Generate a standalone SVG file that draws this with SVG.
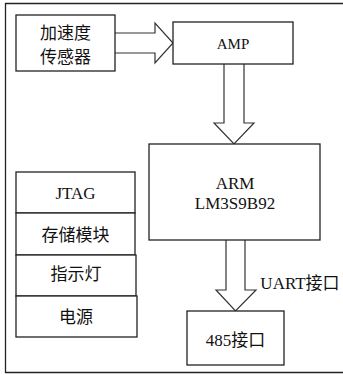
<svg xmlns="http://www.w3.org/2000/svg" width="343" height="375" viewBox="0 0 343 375">
<style>
.b{fill:#fff;stroke:#222;stroke-width:1.3}
.a{fill:#fff;stroke:#333;stroke-width:1.2;stroke-linejoin:miter}
text{font-family:"Liberation Serif","Noto Sans CJK SC",serif;font-size:17px;fill:#111;text-anchor:middle;dominant-baseline:central}
</style>
<rect width="343" height="375" fill="#fff"/>
<path d="M346,3.5 H5.5 V372.5 H346" fill="none" stroke="#222" stroke-width="1.3"/>
<g id="connectors">
<path class="a" d="M115,33 H155 V23 L173,43 L155,63 V53 H115"/>
<path class="a" d="M224,64 V123 H214 L234,144 L254,123 H244 V64"/>
<path class="a" d="M226,240 V290 H216 L235.5,311 L256,290 H245 V240"/>
<text x="300" y="283">UART接口</text>
</g>
<g id="sensor"><rect class="b" x="16" y="15" width="99" height="56"/><text x="65.5" y="33">加速度</text><text x="65.5" y="57">传感器</text></g>
<g id="amp"><rect class="b" x="173" y="22" width="120" height="42"/><text x="233" y="44" style="font-size:15px">AMP</text></g>
<g id="arm"><rect class="b" x="149" y="144" width="171" height="96"/><text x="235" y="183">ARM</text><text x="235" y="203">LM3S9B92</text></g>
<g id="jtag"><rect class="b" x="16" y="172" width="119" height="41"/><text x="75.5" y="193">JTAG</text></g>
<g id="storage"><rect class="b" x="16" y="213" width="119" height="42"/><text x="75.5" y="235">存储模块</text></g>
<g id="indicator"><rect class="b" x="16" y="255" width="120" height="41"/><text x="76" y="274">指示灯</text></g>
<g id="power"><rect class="b" x="16" y="296" width="121" height="41"/><text x="76" y="317">电源</text></g>
<g id="rs485"><rect class="b" x="187" y="311" width="97" height="54"/><text x="235.5" y="340">485接口</text></g>
</svg>
